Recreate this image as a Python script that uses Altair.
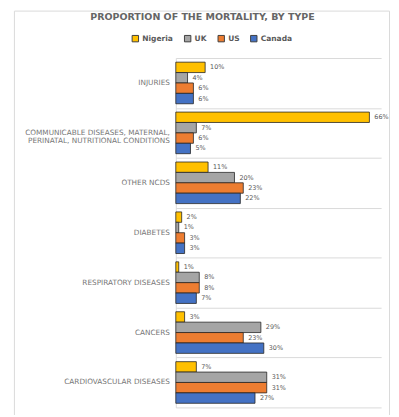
import altair as alt
import pandas as pd

categories = [
    "INJURIES",
    "COMMUNICABLE DISEASES, MATERNAL, PERINATAL, NUTRITIONAL CONDITIONS",
    "OTHER NCDS",
    "DIABETES",
    "RESPIRATORY DISEASES",
    "CANCERS",
    "CARDIOVASCULAR DISEASES",
]
display_labels = [
    "INJURIES",
    "COMMUNICABLE DISEASES, MATERNAL,\nPERINATAL, NUTRITIONAL CONDITIONS",
    "OTHER NCDS",
    "DIABETES",
    "RESPIRATORY DISEASES",
    "CANCERS",
    "CARDIOVASCULAR DISEASES",
]
countries = ["Nigeria", "UK", "US", "Canada"]
colors = ["#FFC000", "#A5A5A5", "#ED7D31", "#4472C4"]
nigeria = [10, 66, 11, 2, 1, 3, 7]
uk = [4, 7, 20, 1, 8, 29, 31]
us = [6, 6, 23, 3, 8, 23, 31]
canada = [6, 5, 22, 3, 7, 30, 27]

rows = []
for series, name in zip([nigeria, uk, us, canada], countries):
    for cat, v in zip(categories, series):
        rows.append({"category": cat, "country": name, "value": v, "label": f"{v}%"})
df = pd.DataFrame(rows)
cat_df = pd.DataFrame({"category": categories, "display": display_labels})

FONT = "DejaVu Sans"

y_enc = alt.Y(
    "category:N",
    sort=categories,
    scale=alt.Scale(paddingInner=0, paddingOuter=0),
    axis=alt.Axis(
        labels=False, ticks=False, title=None, grid=True, tickBand="extent",
        gridColor="#d9d9d9", gridWidth=1, domainColor="#d9d9d9",
    ),
)
yoff = alt.YOffset("country:N", sort=countries, scale=alt.Scale(paddingOuter=0.4, paddingInner=0))
x_enc = alt.X("value:Q", scale=alt.Scale(domain=[0, 70]), axis=None)

bars = alt.Chart(df).mark_bar(stroke="#262626", strokeWidth=0.8).encode(
    y=y_enc,
    yOffset=yoff,
    x=x_enc,
    color=alt.Color(
        "country:N",
        sort=countries,
        scale=alt.Scale(domain=countries, range=colors),
        legend=alt.Legend(
            title=None, orient="none", direction="horizontal",
            legendX=-45, legendY=-24,
            symbolType="square", symbolSize=42, symbolStrokeColor="#404040",
            symbolStrokeWidth=1, labelFont=FONT, labelFontSize=7.6,
            labelFontWeight="bold", labelColor="#595959", labelOffset=3,
            columnPadding=8,
        ),
    ),
)

vals = alt.Chart(df).mark_text(
    align="left", baseline="middle", dx=5, font=FONT, fontSize=6.5, color="#595959"
).encode(y=y_enc, yOffset=yoff, x=x_enc, text="label:N")

cat_labels = alt.Chart(cat_df).mark_text(
    align="right", baseline="middle", font=FONT, fontSize=7.4, color="#767676",
    lineBreak="\n", lineHeight=8.5,
).encode(y=y_enc, x=alt.value(-6), text="display:N")

one = pd.DataFrame({"a": [0]})
frame = alt.Chart(one).mark_rect(fill="transparent", stroke="#d9d9d9", strokeWidth=1).encode(
    x=alt.value(-163.5), x2=alt.value(216.5), y=alt.value(-47.5), y2=alt.value(420)
)
title = alt.Chart(one).mark_text(
    align="center", baseline="middle", font=FONT, fontSize=9.6, fontWeight="bold",
    color="#666666", text="PROPORTION OF THE MORTALITY, BY TYPE",
).encode(x=alt.value(27), y=alt.value(-41))

chart = alt.layer(frame, bars, vals, cat_labels, title).properties(
    width=208, height=354,
    autosize=alt.AutoSizeParams(type="none"),
    padding={"left": 170, "top": 48, "right": 10, "bottom": 5},
).configure_view(stroke=None)

chart.save("out.html", embed_options={"renderer": "svg", "actions": False})
